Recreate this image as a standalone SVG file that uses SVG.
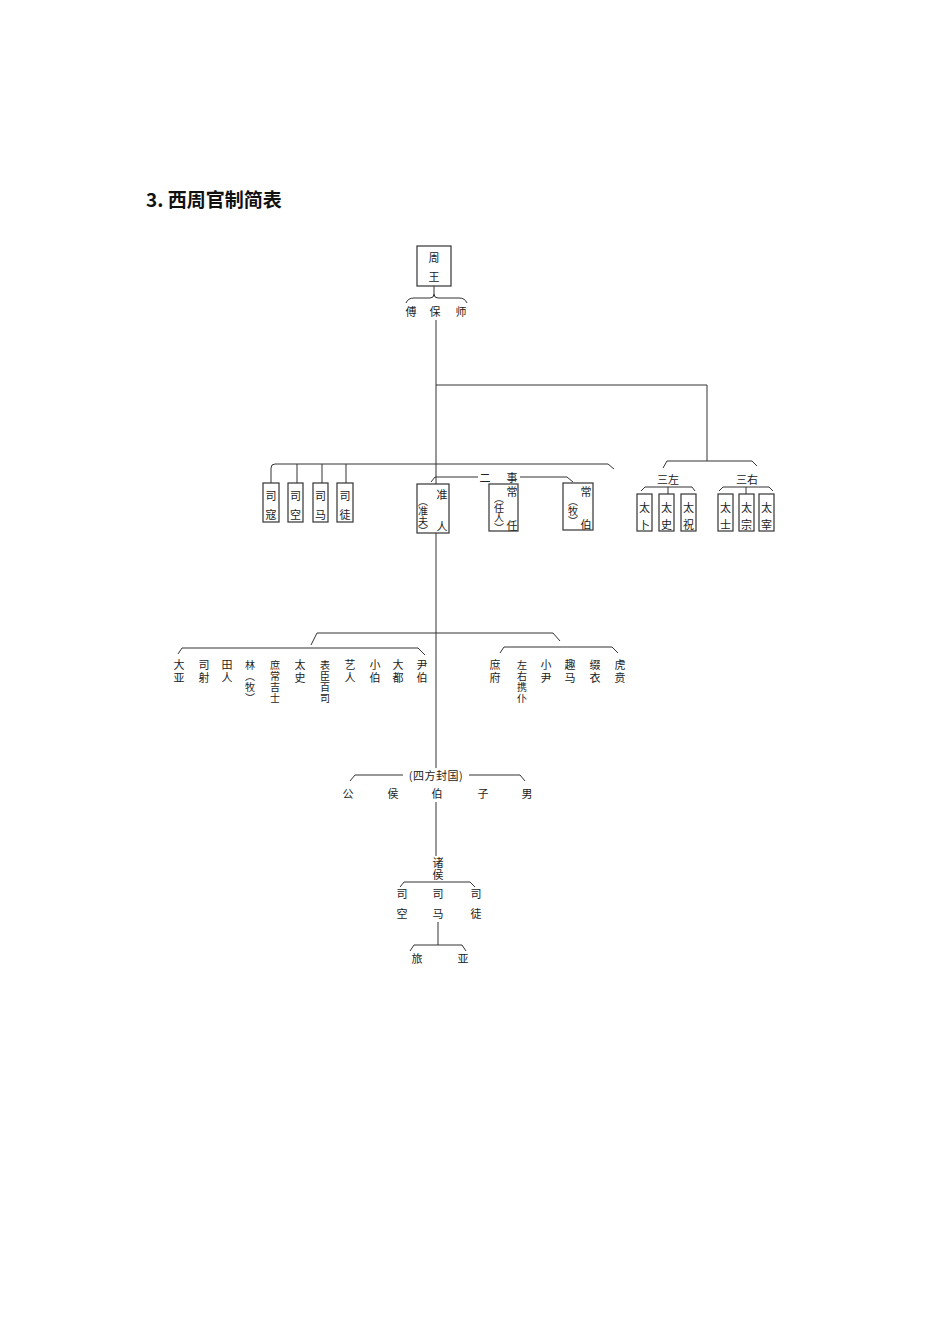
<svg xmlns="http://www.w3.org/2000/svg" width="950" height="1344" viewBox="0 0 950 1344">
<style>
.t{font-family:"Noto Sans CJK SC","Noto Sans",sans-serif;font-size:11px;fill:#222;text-anchor:middle;dominant-baseline:central}
.v{font-family:"Noto Sans CJK SC","Noto Sans",sans-serif;font-size:10px;fill:#222;writing-mode:vertical-rl;text-anchor:start;dominant-baseline:central;letter-spacing:1px}
.v2{font-size:11px;letter-spacing:2px}
.p{font-size:10px;letter-spacing:0}
.ln{stroke:#333;stroke-width:1;fill:none}
.bx{fill:#fff;stroke:#333;stroke-width:1.2}
.title{font-family:"Noto Sans CJK SC","Noto Sans",sans-serif;font-size:19px;font-weight:bold;fill:#111}
</style>
<rect width="950" height="1344" fill="#fff"/>
<text class="title" x="146" y="207">3. 西周官制简表</text>

<g id="connectors">
  <path class="ln" d="M434,286 L434,294"/>
  <path class="ln" d="M406,303 Q408,298 414,298 L430,298 Q434,298 434,294 Q434,298 438,298 L459,298 Q465,298 467,303"/>
  <path class="ln" d="M436,320 L436,484"/>
  <path class="ln" d="M436,385 L707,385 L707,461"/>
  <path class="ln" d="M663,468 L667,461 L752,461 L757,466"/>
  <path class="ln" d="M641,491 L645,487 L692,487 L695,491"/>
  <path class="ln" d="M668,487 L668,494"/>
  <path class="ln" d="M719,491 L723,487 L769,487 L773,491"/>
  <path class="ln" d="M746,487 L746,494"/>
  <path class="ln" d="M271,483 L271,468 Q271,464 275,464 L608,464 L614,469"/>
  <path class="ln" d="M297,464 L297,483 M322,464 L322,483 M346,464 L346,483"/>
  <path class="ln" d="M431,482 L435,477 L478,477 M520,477 L567,477 L573,482"/>
  <path class="ln" d="M436,533 L436,768"/>
  <path class="ln" d="M311,645 L317,633 L553,633 L560,641"/>
  <path class="ln" d="M178,654 L182,648 L418,648 L425,655"/>
  <path class="ln" d="M500,653 L504,647 L612,647 L618,653"/>
  <path class="ln" d="M350,781 L355,775 L403,775 M469,775 L520,775 L525,781"/>
  <path class="ln" d="M436,802 L436,856"/>
  <path class="ln" d="M400,887 L404,882 L470,882 L475,887"/>
  <path class="ln" d="M438,922 L438,945"/>
  <path class="ln" d="M410,951 L414,945 L462,945 L466,951"/>
</g>

<g id="zhouwang">
  <rect class="bx" x="417" y="246" width="34" height="40"/>
  <text class="t" x="434" y="257">周</text>
  <text class="t" x="434" y="276">王</text>
</g>
<g id="fubaoshi">
  <text class="t" x="411" y="311">傅</text>
  <text class="t" x="435" y="311">保</text>
  <text class="t" x="461" y="311">师</text>
</g>

<g id="sikou"><rect class="bx" x="263" y="483" width="16" height="39"/><text class="t" x="271" y="495">司</text><text class="t" x="271" y="514">寇</text></g>
<g id="sikong"><rect class="bx" x="288" y="483" width="15" height="39"/><text class="t" x="295.5" y="495">司</text><text class="t" x="295.5" y="514">空</text></g>
<g id="sima"><rect class="bx" x="313" y="483" width="15" height="39"/><text class="t" x="320.5" y="495">司</text><text class="t" x="320.5" y="514">马</text></g>
<g id="situ"><rect class="bx" x="337" y="483" width="16" height="39"/><text class="t" x="345" y="495">司</text><text class="t" x="345" y="514">徒</text></g>

<g id="ershi"><text class="t" x="485" y="477">二</text><text class="t" x="512" y="477">事</text></g>

<g id="zhunren">
  <rect class="bx" x="417" y="484" width="32" height="49"/>
  <text class="t" x="442" y="494">准</text>
  <text class="t" x="442" y="526">人</text>
  <text class="v p" x="423" y="496">（准夫）</text>
</g>
<g id="changren">
  <rect class="bx" x="489" y="484" width="29" height="47"/>
  <text class="t" x="512" y="491">常</text>
  <text class="t" x="512" y="525">任</text>
  <text class="v p" x="499" y="493">（任人）</text>
</g>
<g id="changbo">
  <rect class="bx" x="563" y="483" width="30" height="47"/>
  <text class="t" x="586" y="491">常</text>
  <text class="t" x="586" y="524">伯</text>
  <text class="v p" x="573" y="496">（牧）</text>
</g>

<g id="sanzuo"><text class="t" x="668" y="479">三左</text></g>
<g id="sanyou"><text class="t" x="747" y="479">三右</text></g>
<g id="taibu"><rect class="bx" x="637" y="494" width="15" height="37"/><text class="t" x="644.5" y="507">太</text><text class="t" x="644.5" y="524">卜</text></g>
<g id="taishi"><rect class="bx" x="659" y="494" width="15" height="37"/><text class="t" x="666.5" y="507">太</text><text class="t" x="666.5" y="524">史</text></g>
<g id="taizhu"><rect class="bx" x="681" y="494" width="15" height="37"/><text class="t" x="688.5" y="507">太</text><text class="t" x="688.5" y="524">祝</text></g>
<g id="taishi2"><rect class="bx" x="718" y="494" width="15" height="37"/><text class="t" x="725.5" y="507">太</text><text class="t" x="725.5" y="524">士</text></g>
<g id="taizong"><rect class="bx" x="739" y="494" width="15" height="37"/><text class="t" x="746.5" y="507">太</text><text class="t" x="746.5" y="524">宗</text></g>
<g id="taizai"><rect class="bx" x="759" y="494" width="15" height="37"/><text class="t" x="766.5" y="507">太</text><text class="t" x="766.5" y="524">宰</text></g>

<g id="left-officials">
  <text class="v v2" x="179" y="659.5">大亚</text>
  <text class="v v2" x="204" y="659.5">司射</text>
  <text class="v v2" x="227" y="659.5">田人</text>
  <text class="v" x="250" y="660">林（牧）</text>
  <text class="v" x="275" y="660">庶常吉士</text>
  <text class="v v2" x="300" y="659.5">太史</text>
  <text class="v" x="325" y="660">表臣百司</text>
  <text class="v v2" x="350" y="659.5">艺人</text>
  <text class="v v2" x="375" y="659.5">小伯</text>
  <text class="v v2" x="398" y="659.5">大都</text>
  <text class="v v2" x="422" y="659.5">尹伯</text>
</g>
<g id="right-officials">
  <text class="v v2" x="495" y="659.5">庶府</text>
  <text class="v" x="522" y="660">左右携仆</text>
  <text class="v v2" x="546" y="659.5">小尹</text>
  <text class="v v2" x="570" y="659.5">趣马</text>
  <text class="v v2" x="595" y="659.5">缀衣</text>
  <text class="v v2" x="620" y="659.5">虎贲</text>
</g>

<g id="sifang">
  <text class="t" x="436" y="775" letter-spacing="0.5">(四方封国)</text>
</g>
<g id="gonghou">
  <text class="t" x="348" y="793">公</text>
  <text class="t" x="393" y="793">侯</text>
  <text class="t" x="437" y="793">伯</text>
  <text class="t" x="483" y="793">子</text>
  <text class="t" x="527" y="793">男</text>
</g>
<g id="zhuhou">
  <text class="v" x="438" y="857" style="font-size:11px;letter-spacing:1px">诸侯</text>
</g>
<g id="zhuhou-sikong"><text class="t" x="402" y="893">司</text><text class="t" x="402" y="913">空</text></g>
<g id="zhuhou-sima"><text class="t" x="438" y="893">司</text><text class="t" x="438" y="913">马</text></g>
<g id="zhuhou-situ"><text class="t" x="476" y="893">司</text><text class="t" x="476" y="913">徒</text></g>
<g id="lv"><text class="t" x="417" y="958">旅</text></g>
<g id="ya"><text class="t" x="463" y="958">亚</text></g>
</svg>
